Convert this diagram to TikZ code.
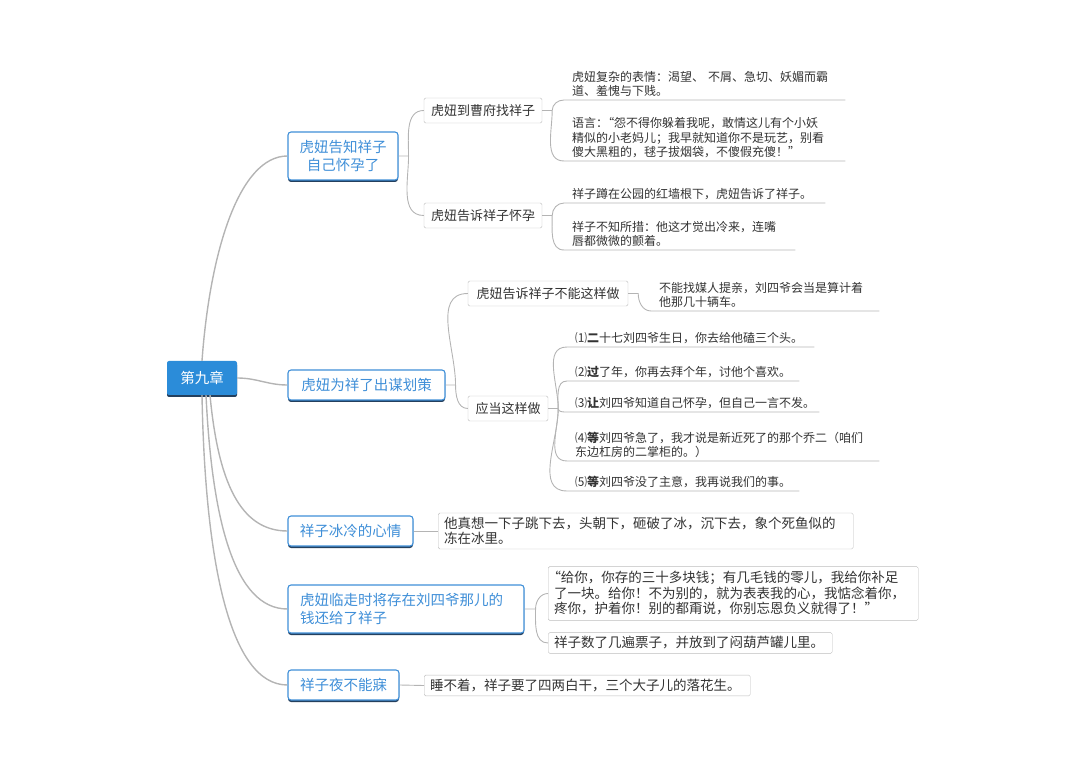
\documentclass[tikz,border=0pt]{standalone}
\usepackage{fontspec}
\setmainfont{Noto Sans CJK SC}
\usepackage{tikz}
\usetikzlibrary{shadows}

\definecolor{rootblue}{HTML}{2B8CD9}
\definecolor{topicblue}{HTML}{3F8FD8}
\definecolor{topicshadow}{HTML}{24405E}
\definecolor{linegray}{HTML}{B4B4B4}
\definecolor{boxgray}{HTML}{BDBDBD}
\definecolor{txtgray}{HTML}{333333}

% tight quote marks
\newcommand{\openq}{{\addfontfeature{RawFeature=+palt}“}}
\newcommand{\closeq}{{\addfontfeature{RawFeature=+palt}”}}

\begin{document}
\begin{tikzpicture}[x=1pt, y=1pt,
  rootnode/.style={fill=rootblue, text=white, rounded corners=2pt,
    minimum width=70pt, minimum height=34pt, inner sep=0pt,
    font=\fontsize{14.5}{18}\selectfont,
    drop shadow={shadow xshift=0pt, shadow yshift=-2pt, fill=topicshadow, opacity=1}},
  topic/.style={draw=topicblue, line width=1.1pt, fill=white, text=topicblue,
    rounded corners=3pt, inner sep=0pt, align=center,
    font=\fontsize{14.5}{18}\selectfont,
    drop shadow={shadow xshift=0pt, shadow yshift=-2pt, fill=topicshadow, opacity=1}},
  subtopic/.style={draw=boxgray, fill=white, text=txtgray, rounded corners=1.5pt,
    inner sep=0pt, minimum height=25pt, font=\fontsize{13}{16}\selectfont},
  leaf/.style={anchor=south west, inner xsep=8pt, inner ysep=3pt, align=left,
    text=txtgray, font=\fontsize{12}{14.5}\selectfont},
  leafbox/.style={anchor=west, draw=boxgray, fill=white, rounded corners=1.5pt,
    inner xsep=6pt, inner ysep=4pt, align=left, text=txtgray,
    font=\fontsize{13.5}{15.5}\selectfont},
  rootline/.style={draw=linegray, line width=1.4pt},
  conn/.style={draw=linegray, line width=0.9pt}]

  \useasboundingbox (0,0) rectangle (1080,-759);

  % === Root ===
  \node[rootnode] (root) at (202,-378) {第九章};

  % === Main topics ===
  \node[topic, minimum width=110pt, minimum height=48pt] (t1) at (343,-156)
    {虎妞告知祥子\\自己怀孕了};
  \node[topic, minimum width=157pt, minimum height=30pt] (t2) at (366.5,-385)
    {虎妞为祥了出谋划策};
  \node[topic, minimum width=125pt, minimum height=30pt] (t3) at (350.5,-531)
    {祥子冰冷的心情};
  \node[topic, align=left, text width=212pt, inner xsep=12pt, minimum height=48pt]
    (t4) at (406,-609) {虎妞临走时将存在刘四爷那儿的\\钱还给了祥子};
  \node[topic, minimum width=111pt, minimum height=30pt] (t5) at (343.5,-685)
    {祥子夜不能寐};

  % Root to topics
  \draw[rootline] (root.north) .. controls +(8,110) and +(-48,0) .. (t1.west);
  \draw[rootline] (root.east) to[out=0,in=180] (t2.west);
  \draw[rootline] ([xshift=8pt]root.south) .. controls +(8,-85) and +(-48,0) .. (t3.west);
  \draw[rootline] ([xshift=4pt]root.south) .. controls +(6,-125) and +(-53,0) .. (t4.west);
  \draw[rootline] (root.south) .. controls +(3,-165) and +(-58,0) .. (t5.west);

  % === Topic 1: sub topics and leaves ===
  \node[subtopic, minimum width=118pt] (s1) at (483,-110.5) {虎妞到曹府找祥子};
  \node[subtopic, minimum width=118pt] (s2) at (483,-215.5) {虎妞告诉祥子怀孕};
  \draw[conn] (t1.east) -- ++(10,0) coordinate (j1)
    to[out=90,in=180] (s1.west)
    (j1) to[out=-90,in=180] (s2.west);

  \node[leaf, text width=265pt] (l1) at (564,-100)
    {虎妞复杂的表情：渴望、 不屑、急切、妖媚而霸\\道、羞愧与下贱。};
  \node[leaf, text width=265pt] (l2) at (564,-161)
    {语言：\openq 怨不得你躲着我呢，敢情这儿有个小妖\\精似的小老妈儿；我早就知道你不是玩艺，别看\\傻大黑粗的，毬子拔烟袋，不傻假充傻！\closeq};
  \draw[conn] (s1.east) -- ++(10,0) coordinate (j3)
    to[out=90,in=180] (l1.south west) -- (l1.south east)
    (j3) to[out=-90,in=180] (l2.south west) -- (l2.south east);

  \node[leaf, text width=245pt] (l3) at (564,-203)
    {祥子蹲在公园的红墙根下，虎妞告诉了祥子。};
  \node[leaf, text width=215pt] (l4) at (564,-250)
    {祥子不知所措：他这才觉出冷来，连嘴\\唇都微微的颤着。};
  \draw[conn] (s2.east) -- ++(10,0) coordinate (j4)
    to[out=90,in=180] (l3.south west) -- (l3.south east)
    (j4) to[out=-90,in=180] (l4.south west) -- (l4.south east);

  % === Topic 2: sub topics and leaves ===
  \node[subtopic, minimum width=160pt] (s3) at (548,-293.5) {虎妞告诉祥子不能这样做};
  \node[subtopic, minimum width=80pt] (s4) at (508,-408.5) {应当这样做};
  \draw[conn] (t2.east) -- ++(10,0) coordinate (j2)
    to[out=90,in=180] (s3.west)
    (j2) to[out=-90,in=180] (s4.west);

  \node[leaf, text width=212pt] (l5) at (651,-311)
    {不能找媒人提亲，刘四爷会当是算计着\\他那几十辆车。};
  \draw[conn] (s3.east) -- ++(10,0) to[out=-90,in=180] (l5.south west) -- (l5.south east);

  % five steps
  \foreach \k/\yy/\tw/\txt in {
    1/347/231/{⑴\textbf{二}十七刘四爷生日，你去给他磕三个头。},
    2/381/216/{⑵\textbf{过}了年，你再去拜个年，讨他个喜欢。},
    3/412/236/{⑶\textbf{让}刘四爷知道自己怀孕，但自己一言不发。},
    4/461/296/{⑷\textbf{等}刘四爷急了，我才说是新近死了的那个乔二（咱们\\东边杠房的二掌柜的。）},
    5/491/216/{⑸\textbf{等}刘四爷没了主意，我再说我们的事。}} {
    \node[leaf, text width=\tw pt] (d\k) at (567,-\yy) {\txt};
  }
  \draw[conn] (s4.east) -- ++(10,0) coordinate (j6);
  \foreach \k/\a in {1/90,2/90,3/-90,4/-90,5/-90} {
    \draw[conn] (j6) to[out=\a,in=180] (d\k.south west) -- (d\k.south east);
  }

  % === Topic 3 ===
  \node[leafbox, text width=403pt] (b3) at (438,-531)
    {他真想一下子跳下去，头朝下，砸破了冰，沉下去，象个死鱼似的\\冻在冰里。};
  \draw[conn] (t3.east) -- (b3.west);

  % === Topic 4 ===
  \node[leafbox, text width=358pt, inner ysep=5pt] (b4a) at (548,-593.5)
    {\openq 给你，你存的三十多块钱；有几毛钱的零儿，我给你补足\\了一块。给你！不为别的，就为表表我的心，我惦念着你，\\疼你，护着你！别的都甭说，你别忘恩负义就得了！\closeq};
  \node[leafbox, text width=272pt] (b4b) at (548,-643)
    {祥子数了几遍票子，并放到了闷葫芦罐儿里。};
  \draw[conn] (t4.east) -- ++(11,0) coordinate (j8)
    to[out=90,in=180] (b4a.west)
    (j8) to[out=-90,in=180] (b4b.west);

  % === Topic 5 ===
  \node[leafbox, text width=314pt] (b5) at (424,-685.5)
    {睡不着，祥子要了四两白干，三个大子儿的落花生。};
  \draw[conn] (t5.east) -- (b5.west);
\end{tikzpicture}
\end{document}
